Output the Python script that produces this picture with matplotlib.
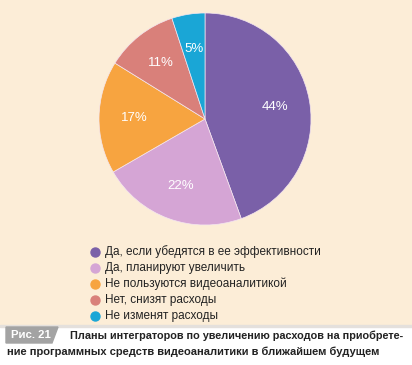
import matplotlib
matplotlib.use("Agg")
import matplotlib.pyplot as plt
from matplotlib.patches import Polygon, Rectangle

# data
labels = ["Да, если убедятся в ее эффективности",
          "Да, планируют увеличить",
          "Не пользуются видеоаналитикой",
          "Нет, снизят расходы",
          "Не изменят расходы"]
values = [44, 22, 17, 11, 5]
colors = ["#7a60a8", "#d5a5d5", "#f7a440", "#d9807a", "#1aa6d6"]
caption_num = "Рис. 21"
caption = ["Планы интеграторов по увеличению расходов на приобрете-",
           "ние программных средств видеоаналитики в ближайшем будущем"]

W, H = 412, 365
fig = plt.figure(figsize=(W / 100, H / 100), dpi=100)
fig.patch.set_facecolor("white")

# background panels (pixel coords, origin top-left)
bg = fig.add_axes([0, 0, 1, 1])
bg.set_xlim(0, W)
bg.set_ylim(H, 0)
bg.axis("off")
bg.add_patch(Rectangle((0, 0), W, 325, color="#fcedd7", zorder=0))
bg.add_patch(Rectangle((0, 325), W, 2, color="#e4e0dc", zorder=0))
bg.add_patch(Polygon([(6, 327), (58, 327), (52, 343), (6, 343)],
                     closed=True, color="#a3a3a3", zorder=1))


def fit_text(x, y, s, width, color="#222222"):
    # shrink bold text until it spans the given pixel width
    t = bg.text(x, y, s, color=color, fontsize=10, fontweight="bold",
                family="Liberation Sans", va="center", ha="left")
    r = fig.canvas.get_renderer()
    w = t.get_window_extent(r).width
    t.set_fontsize(10 * width / w)
    return t


fit_text(11, 335.5, caption_num, 40, color="white")
fit_text(70, 335.5, caption[0], 333)
fit_text(7, 351.5, caption[1], 375)

# legend
for i, (lab, c) in enumerate(zip(labels, colors)):
    y = 252 + i * 16
    bg.scatter([95], [y], s=42, color=c, zorder=3)
    bg.text(105, y, lab, fontsize=8.5, family="Liberation Sans",
            color="#222222", va="center", ha="left")

# pie
cx, cy, r = 205, 119, 106
ax = fig.add_axes([(cx - r) / W, (H - cy - r) / H, 2 * r / W, 2 * r / H])
ax.set_facecolor("none")
wedges, texts = ax.pie(values, colors=colors, startangle=90, counterclock=False,
                       labels=[f"{v}%" for v in values], labeldistance=0.67,
                       wedgeprops=dict(edgecolor="#f4e6f0", linewidth=0.5),
                       textprops=dict(color="white", fontsize=9.5,
                                      family="Liberation Sans"))
for t in texts:
    t.set_ha("center")
    t.set_va("center")
ax.set_xlim(-1, 1)
ax.set_ylim(-1, 1)
ax.set_aspect("equal")

fig.savefig("out.png", dpi=100)
